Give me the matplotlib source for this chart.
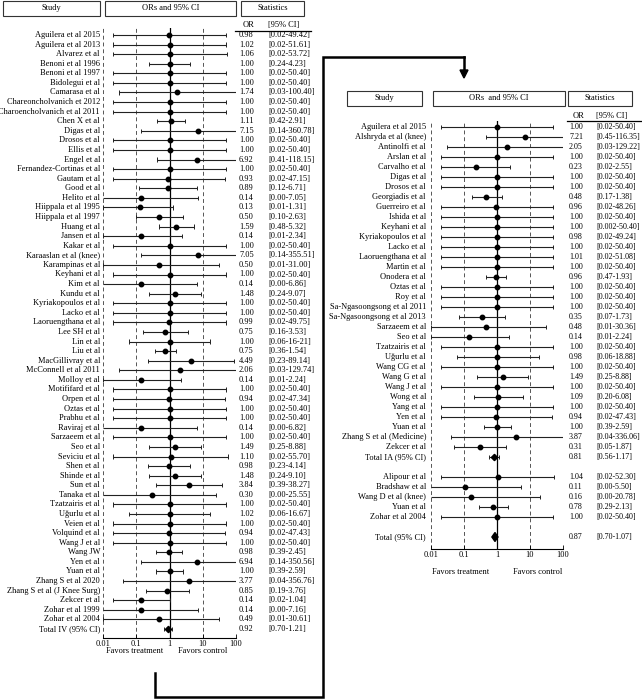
import numpy as np
import matplotlib
matplotlib.use('Agg')
import matplotlib.pyplot as plt
from matplotlib.transforms import blended_transform_factory
from matplotlib.patches import Rectangle, Polygon
from matplotlib.lines import Line2D

plt.rcParams['font.family'] = ['Liberation Serif', 'DejaVu Serif']

W, H = 642, 699
FS = 6.0

# ---- left panel data (IV) ----
left_names = [
    "Aguilera et al 2015", "Aguilera et al 2013", "Alvarez et al", "Benoni et al 1996",
    "Benoni et al 1997", "Bidolegui et al", "Camarasa et al", "Chareoncholvanich et 2012",
    "Charoencholvanich et al 2011", "Chen X et al", "Digas et al", "Drosos et al",
    "Ellis et al", "Engel et al", "Fernandez-Cortinas et al", "Gautam et al", "Good et al",
    "Helito et al", "Hiippala et al 1995", "Hiippala et al 1997", "Huang et al",
    "Jansen et al", "Kakar et al", "Karaaslan et al (knee)", "Karampinas et al",
    "Keyhani et al", "Kim et al", "Kundu et al", "Kyriakopoulos et al", "Lacko et al",
    "Laoruengthana et al", "Lee SH et al", "Lin et al", "Liu et al", "MacGillivray et al",
    "McConnell et al 2011", "Molloy et al", "Motififard et al", "Orpen et al", "Oztas et al",
    "Prabhu et al", "Raviraj et al", "Sarzaeem et al", "Seo et al", "Seviciu et al",
    "Shen et al", "Shinde et al", "Sun et al", "Tanaka et al", "Tzatzairis et al",
    "Uğurlu et al", "Veien et al", "Volquind et al", "Wang J et al", "Wang JW", "Yen et al",
    "Yuan et al", "Zhang S et al 2020", "Zhang S et al (J Knee Surg)", "Zekcer et al",
    "Zohar et al 1999", "Zohar et al 2004", "Total IV (95% CI)",
]
left_or = [0.98, 1.02, 1.06, 1.00, 1.00, 1.00, 1.74, 1.00, 1.00, 1.11, 7.15, 1.00, 1.00,
           6.92, 1.00, 0.93, 0.89, 0.14, 0.13, 0.50, 1.59, 0.14, 1.00, 7.05, 0.50, 1.00,
           0.14, 1.48, 1.00, 1.00, 0.99, 0.75, 1.00, 0.75, 4.49, 2.06, 0.14, 1.00, 0.94,
           1.00, 1.00, 0.14, 1.00, 1.49, 1.10, 0.98, 1.48, 3.84, 0.30, 1.00, 1.02, 1.00,
           0.94, 1.00, 0.98, 6.94, 1.00, 3.77, 0.85, 0.14, 0.14, 0.49, 0.92]
left_lo = [0.02, 0.02, 0.02, 0.24, 0.02, 0.02, 0.03, 0.02, 0.02, 0.42, 0.14, 0.02, 0.02,
           0.41, 0.02, 0.02, 0.12, 0.00, 0.01, 0.10, 0.48, 0.01, 0.02, 0.14, 0.01, 0.02,
           0.00, 0.24, 0.02, 0.02, 0.02, 0.16, 0.06, 0.36, 0.23, 0.03, 0.01, 0.02, 0.02,
           0.02, 0.02, 0.00, 0.02, 0.25, 0.02, 0.23, 0.24, 0.39, 0.00, 0.02, 0.06, 0.02,
           0.02, 0.02, 0.39, 0.14, 0.39, 0.04, 0.19, 0.02, 0.00, 0.01, 0.70]
left_hi = [49.42, 51.61, 53.72, 4.23, 50.40, 50.40, 100.40, 50.40, 50.40, 2.91, 360.78,
           50.40, 50.40, 118.15, 50.40, 47.15, 6.71, 7.05, 1.31, 2.63, 5.32, 2.34, 50.40,
           355.51, 31.00, 50.40, 6.86, 9.07, 50.40, 50.40, 49.75, 3.53, 16.21, 1.54, 89.14,
           129.74, 2.24, 50.40, 47.34, 50.40, 50.40, 6.82, 50.40, 8.88, 55.70, 4.14, 9.10,
           38.27, 25.55, 50.40, 16.67, 50.40, 47.43, 50.40, 2.45, 350.56, 2.59, 356.76,
           3.76, 1.04, 7.16, 30.61, 1.21]
left_ci = ["[0.02-49.42]", "[0.02-51.61]", "[0.02-53.72]", "[0.24-4.23]", "[0.02-50.40]",
           "[0.02-50.40]", "[0.03-100.40]", "[0.02-50.40]", "[0.02-50.40]", "[0.42-2.91]",
           "[0.14-360.78]", "[0.02-50.40]", "[0.02-50.40]", "[0.41-118.15]", "[0.02-50.40]",
           "[0.02-47.15]", "[0.12-6.71]", "[0.00-7.05]", "[0.01-1.31]", "[0.10-2.63]",
           "[0.48-5.32]", "[0.01-2.34]", "[0.02-50.40]", "[0.14-355.51]", "[0.01-31.00]",
           "[0.02-50.40]", "[0.00-6.86]", "[0.24-9.07]", "[0.02-50.40]", "[0.02-50.40]",
           "[0.02-49.75]", "[0.16-3.53]", "[0.06-16-21]", "[0.36-1.54]", "[0.23-89.14]",
           "[0.03-129.74]", "[0.01-2.24]", "[0.02-50.40]", "[0.02-47.34]", "[0.02-50.40]",
           "[0.02-50.40]", "[0.00-6.82]", "[0.02-50.40]", "[0.25-8.88]", "[0.02-55.70]",
           "[0.23-4.14]", "[0.24-9.10]", "[0.39-38.27]", "[0.00-25.55]", "[0.02-50.40]",
           "[0.06-16.67]", "[0.02-50.40]", "[0.02-47.43]", "[0.02-50.40]", "[0.39-2.45]",
           "[0.14-350.56]", "[0.39-2.59]", "[0.04-356.76]", "[0.19-3.76]", "[0.02-1.04]",
           "[0.00-7.16]", "[0.01-30.61]", "[0.70-1.21]"]

# ---- right panel data (IA + combined) ----
right_names = [
    "Aguilera et al 2015", "Alshryda et al (knee)", "Antinolfi et al", "Arslan et al",
    "Carvalho et al", "Digas et al", "Drosos et al", "Georgiadis et al", "Guerreiro et al",
    "Ishida et al", "Keyhani et al", "Kyriakopoulos et al", "Lacko et al",
    "Laoruengthana et al", "Martin et al", "Onodera et al", "Oztas et al", "Roy et al",
    "Sa-Ngasoongsong et al 2011", "Sa-Ngasoongsong et al 2013", "Sarzaeem et al",
    "Seo et al", "Tzatzairis et al", "Uğurlu et al", "Wang CG et al", "Wang G et al",
    "Wang J et al", "Wong et al", "Yang et al", "Yen et al", "Yuan et al",
    "Zhang S et al (Medicine)", "Zekcer et al", "Total IA (95% CI)",
    "Alipour et al", "Bradshaw et al", "Wang D et al (knee)", "Yuan et al",
    "Zohar et al 2004", "Total (95% CI)",
]
right_or = [1.00, 7.21, 2.05, 1.00, 0.23, 1.00, 1.00, 0.48, 0.96, 1.00, 1.00, 0.98, 1.00,
            1.01, 1.00, 0.96, 1.00, 1.00, 1.00, 0.35, 0.48, 0.14, 1.00, 0.98, 1.00, 1.49,
            1.00, 1.09, 1.00, 0.94, 1.00, 3.87, 0.31, 0.81, 1.04, 0.11, 0.16, 0.78, 1.00, 0.87]
right_lo = [0.02, 0.45, 0.03, 0.02, 0.02, 0.02, 0.02, 0.17, 0.02, 0.02, 0.02, 0.02, 0.02,
            0.02, 0.02, 0.47, 0.02, 0.02, 0.02, 0.07, 0.01, 0.01, 0.02, 0.06, 0.02, 0.25,
            0.02, 0.20, 0.02, 0.02, 0.39, 0.04, 0.05, 0.56, 0.02, 0.00, 0.00, 0.29, 0.02, 0.70]
right_hi = [50.40, 116.35, 129.22, 50.40, 2.55, 50.40, 50.40, 1.38, 48.26, 50.40, 50.40,
            49.24, 50.40, 51.08, 50.40, 1.93, 50.40, 50.40, 50.40, 1.73, 30.36, 2.24, 50.40,
            18.88, 50.40, 8.88, 50.40, 6.08, 50.40, 47.43, 2.59, 336.06, 1.87, 1.17, 52.30,
            5.50, 20.78, 2.13, 50.40, 1.07]
right_ci = ["[0.02-50.40]", "[0.45-116.35]", "[0.03-129.22]", "[0.02-50.40]", "[0.02-2.55]",
            "[0.02-50.40]", "[0.02-50.40]", "[0.17-1.38]", "[0.02-48.26]", "[0.02-50.40]",
            "[0.002-50.40]", "[0.02-49.24]", "[0.02-50.40]", "[0.02-51.08]", "[0.02-50.40]",
            "[0.47-1.93]", "[0.02-50.40]", "[0.02-50.40]", "[0.02-50.40]", "[0.07-1.73]",
            "[0.01-30.36]", "[0.01-2.24]", "[0.02-50.40]", "[0.06-18.88]", "[0.02-50.40]",
            "[0.25-8.88]", "[0.02-50.40]", "[0.20-6.08]", "[0.02-50.40]", "[0.02-47.43]",
            "[0.39-2.59]", "[0.04-336.06]", "[0.05-1.87]", "[0.56-1.17]", "[0.02-52.30]",
            "[0.00-5.50]", "[0.00-20.78]", "[0.29-2.13]", "[0.02-50.40]", "[0.70-1.07]"]

# row slots (blank slot before second group and before overall total)
left_rows = list(range(len(left_names)))
right_rows = list(range(34)) + list(range(35, 40)) + [41]


def fx(x):
    return x / W


def fy(y):
    return 1 - y / H


def make_axes(x0, x1, y0, y1, row0, step):
    ax = fig.add_axes([fx(x0), fy(y1), (x1 - x0) / W, (y1 - y0) / H])
    ax.set_xscale('log')
    ax.set_xlim(0.01, 100)
    ax.set_ylim((y1 - row0) / step, -(row0 - y0) / step)
    for s in ['top', 'left', 'right']:
        ax.spines[s].set_visible(False)
    ax.spines['bottom'].set_linewidth(0.8)
    ax.set_yticks([])
    ax.set_xticks([0.01, 0.1, 1, 10, 100])
    ax.set_xticklabels(['0.01', '0.1', '1', '10', '100'], fontsize=FS)
    ax.tick_params(axis='x', which='major', direction='in', length=3, width=0.6, pad=1.5)
    ax.tick_params(axis='x', which='minor', direction='in', length=1.8, width=0.5)
    ax.patch.set_alpha(0)
    for v in [0.01, 0.1, 10, 100]:
        ax.axvline(v, color='#555555', lw=0.7, ls=(0, (4, 3)), zorder=1)
    ax.axvline(1, color='black', lw=0.9, zorder=1)
    return ax


def draw_forest(ax, rows, names, ors, los, his, cis, totals, name_x, or_x, ci_x,
                big_total=None, stat_fs=FS):
    tr = blended_transform_factory(fig.transFigure, ax.transData)
    for k, r in enumerate(rows):
        o, lo, hi = ors[k], los[k], his[k]
        lo_c = max(lo, 0.01)
        hi_c = min(hi, 100)
        if k == big_total:
            d = 0.45
            ax.add_patch(Polygon([[lo, r], [o, r - d], [hi, r], [o, r + d]],
                                 closed=True, color='black', zorder=4))
        else:
            ax.hlines(r, lo_c, hi_c, color='#222222', lw=0.8, zorder=3)
            cap = 0.22
            if lo >= 0.01:
                ax.vlines(lo_c, r - cap, r + cap, color='#222222', lw=0.7, zorder=3)
            if hi <= 100:
                ax.vlines(hi_c, r - cap, r + cap, color='#222222', lw=0.7, zorder=3)
            if k in totals:
                ax.plot(o, r, marker='D', color='black', ms=3.2, zorder=4)
            else:
                ax.plot(o, r, marker='o', color='black', ms=3.2, zorder=4)
        ax.text(fx(name_x), r, names[k], transform=tr, ha='right', va='center', fontsize=FS)
        ax.text(fx(or_x), r, f"{o:.2f}", transform=tr, ha='left', va='center', fontsize=stat_fs)
        ax.text(fx(ci_x), r, cis[k], transform=tr, ha='left', va='center', fontsize=stat_fs)


def header(y0, y1, boxes, or_x, ci_x, line_y, line_x0, line_x1, sub_y):
    for (x0, x1, label) in boxes:
        fig.add_artist(Rectangle((fx(x0), fy(y1)), (x1 - x0) / W, (y1 - y0) / H,
                                 transform=fig.transFigure, fill=False, lw=0.8,
                                 edgecolor='#333333'))
        fig.text(fx((x0 + x1) / 2), fy((y0 + y1) / 2), label, ha='center', va='center',
                 fontsize=FS)
    fig.text(fx(or_x), fy(sub_y), "OR", ha='center', va='center', fontsize=FS)
    fig.text(fx(ci_x), fy(sub_y), "[95% CI]", ha='center', va='center', fontsize=FS)
    fig.add_artist(Line2D([fx(line_x0), fx(line_x1)], [fy(line_y), fy(line_y)],
                          transform=fig.transFigure, color='black', lw=0.9))


fig = plt.figure(figsize=(W / 100, H / 100), dpi=100)

# left panel
axL = make_axes(103, 236, 28, 638, 35, 9.58)
draw_forest(axL, left_rows, left_names, left_or, left_lo, left_hi, left_ci,
            totals=[62], name_x=100, or_x=239, ci_x=268)
header(1, 16, [(3, 100, "Study"), (105, 236, "ORs and 95% CI"), (241, 304, "Statistics")],
       249, 284, 31, 235, 311, 25)
fig.text(fx(135), fy(651), "Favors treatment", ha='center', va='center', fontsize=FS)
fig.text(fx(203), fy(651), "Favors control", ha='center', va='center', fontsize=FS)

# right panel
axR = make_axes(431, 563, 121, 549, 127, 10.0)
draw_forest(axR, right_rows, right_names, right_or, right_lo, right_hi, right_ci,
            totals=[33], name_x=426, or_x=569, ci_x=596, big_total=39, stat_fs=5.75)
header(91, 106, [(347, 422, "Study"), (433, 565, "ORs  and 95% CI"), (568, 632, "Statistics")],
       579, 612, 121, 567, 642, 116)
fig.text(fx(461), fy(572), "Favors treatment", ha='center', va='center', fontsize=FS)
fig.text(fx(538), fy(572), "Favors control", ha='center', va='center', fontsize=FS)

# connector between panels
cx = [155, 155, 323, 323, 464]
cy = [673, 697, 697, 57, 57]
fig.add_artist(Line2D([fx(v) for v in cx], [fy(v) for v in cy], transform=fig.transFigure,
                      color='black', lw=1.8, solid_joinstyle='miter'))
fig.add_artist(Line2D([fx(464), fx(464)], [fy(57), fy(70)], transform=fig.transFigure,
                      color='black', lw=1.8))
fig.add_artist(Polygon([[fx(460), fy(70)], [fx(468), fy(70)], [fx(464), fy(78)]],
                       closed=True, transform=fig.transFigure, color='black'))

fig.savefig('out.png', dpi=100)
